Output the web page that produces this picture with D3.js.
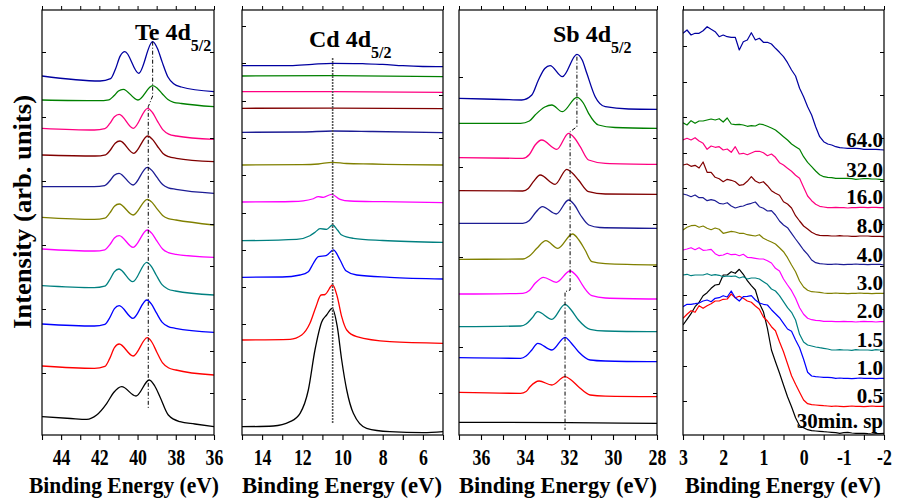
<!DOCTYPE html>
<html><head><meta charset="utf-8">
<script src="https://cdn.jsdelivr.net/npm/d3@7/dist/d3.min.js"></script>
<style>body{margin:0;background:#fff} text{font-family:"Liberation Serif","Times New Roman",serif;font-weight:bold;fill:#000}</style>
</head><body><svg id="c" width="897" height="503"></svg>
<script>
// ---------- data ----------
const seriesLabels = ["30min. sp","0.5","1.0","1.5","2.0","3.0","4.0","8.0","16.0","32.0","64.0"];
const seriesColors = ["#000000","#ff0000","#0000ff","#008080","#ff00ff","#808000","#1c1c94","#800000","#ff0080","#008000","#0000a0"];

// Te 4d : [binding energy, intensity]
const teSeries = [
 [[45,18.3],[43.5,16.5],[42.66,15.7],[42.14,20],[41.61,31.7],[41.25,42.5],[40.83,48.3],[40.08,39],[39.39,55],[39.1,49],[38.83,38.3],[38.39,20],[37.78,13.3],[37,11],[36,8.3]],
 [[45,69],[42.26,66.7],[41.71,68.6],[41.46,76.4],[41.21,87.4],[40.96,91],[40.23,79],[39.49,97.3],[39.24,92.5],[38.99,82.8],[38.69,72.1],[38.39,67.3],[37.99,65],[36,60]],
 [[45,111],[42.26,109],[41.71,110.6],[41.46,117.1],[41.21,126.3],[40.96,129.3],[40.24,116.7],[39.52,135],[39.27,130.8],[39.02,122.3],[38.72,112.9],[38.42,108.7],[38.02,106.7],[36,102.7]],
 [[45,149.3],[42.27,147.3],[41.72,148.8],[41.47,154.8],[41.22,163.2],[40.97,166],[40.25,153.3],[39.52,172.7],[39.27,168.4],[39.02,159.8],[38.72,150.3],[38.42,146],[38.02,144],[36,140]],
 [[45,186],[42.26,184],[41.71,185.2],[41.46,190.1],[41.21,197],[40.96,199.3],[40.23,187.7],[39.49,205],[39.24,201.4],[38.99,194.1],[38.69,186],[38.39,182.4],[37.99,180.7],[36,177.7]],
 [[45,217.7],[42.26,215.7],[41.71,216.9],[41.46,221.8],[41.21,228.7],[40.96,231],[40.23,220],[39.49,235.7],[39.24,232.6],[38.99,226.4],[38.69,219.6],[38.39,216.4],[37.99,215],[36,210]],
 [[45,248.3],[42.27,248.3],[41.72,249.4],[41.47,253.7],[41.22,259.7],[40.97,261.7],[40.23,250],[39.49,267.7],[39.24,264.4],[38.99,257.8],[38.69,250.5],[38.39,247.2],[37.99,245.7],[36,241.7]],
 [[45,280],[42.22,279],[41.67,280.2],[41.42,285],[41.17,291.8],[40.92,294],[40.2,281.7],[39.47,299],[39.22,295.6],[38.97,289],[38.67,281.6],[38.37,278.3],[37.97,276.7],[36,273.3]],
 [[45,306.7],[42.26,305],[41.71,306.3],[41.46,311.3],[41.21,318.3],[40.96,320.7],[40.22,306.7],[39.47,326.7],[39.22,322.5],[38.97,314.2],[38.67,305.1],[38.37,300.9],[37.97,299],[36,295.7]],
 [[45,335],[42.05,334.3],[41.5,335.2],[41.25,338.9],[41,344],[40.75,345.7],[39.98,335],[39.21,349.3],[38.96,346.6],[38.71,341.3],[38.41,335.4],[38.11,332.7],[37.71,331.5],[36,328.3]],
 [[45,359],[41.96,354],[41.41,356.3],[41.16,365.7],[40.91,378.9],[40.66,383.3],[39.94,361.7],[39.21,393.3],[38.96,386.5],[38.71,372.9],[38.41,358],[38.11,351.2],[37.71,348],[36,343.3]]
];
const teGuide = [[39.21,393.3],[39.21,339],[39.44,328.3],[39.44,26.7]];

// Cd 4d
const cdSeries = [
 [[15,8.3],[13.44,9],[12.61,13.3],[12.11,21.7],[11.7,45],[11.37,85],[11.03,113.3],[10.79,120],[10.51,126.7],[10.26,108.3],[10.04,75],[9.79,45],[9.46,21.7],[8.8,6.7],[7.64,3.3],[5.98,2.3],[5,3.3]],
 [[15,95],[12.61,95.7],[12.03,100],[11.62,111.7],[11.32,128.3],[11.07,140],[10.87,140.5],[10.49,150],[10.26,138.3],[10.04,118.3],[9.79,105],[9.29,98.3],[7.64,93.3],[5,91.7]],
 [[15,157.7],[13,158],[12.11,160],[11.7,163.3],[11.45,171.7],[11.2,178.3],[10.82,179.3],[10.45,185],[10.12,175],[9.83,164.3],[9.29,160],[7.64,157.7],[5,156]],
 [[15,194.3],[12.28,195.7],[11.62,199.3],[11.35,203],[11.12,206.3],[10.79,205.7],[10.49,210],[10.25,205],[10.04,200],[9.46,196.7],[8,194.5],[5,192.7]],
 [[15,233],[12.5,233.5],[11.95,234.2],[11.5,236],[11.2,238.3],[10.96,237.7],[10.54,240.7],[10.12,235.7],[9.63,234],[8,233.3],[5,232.3]],
 [[15,270],[12,270.3],[11.2,271],[10.5,272.7],[9.8,271.5],[8.5,271],[7,270.3],[5,270]],
 [[15,302.7],[12,303],[10.5,304],[8.5,303.5],[5,302.3]],
 [[15,326.7],[10.5,326.9],[5,326.3]],
 [[15,343.3],[10.5,343.3],[5,342.7]],
 [[15,359],[10.5,359.3],[5,358.3]],
 [[15,369.3],[12.6,369.3],[11.5,370.7],[10.5,371.7],[9,371.3],[8,370.7],[7,369.3],[6,368.5],[5,368.3]]
];
const cdGuide = [[10.49,377],[10.49,11.7]];

// Sb 4d
const sbSeries = [
 [[37,12.7],[32,12.3],[28,11.7]],
 [[37,42.7],[34.2,41.7],[33.95,43.5],[33.77,48.3],[33.36,54],[32.78,50],[32.18,58.3],[31.9,55],[31.57,48.3],[31.04,40],[30.35,38.8],[28,38.3]],
 [[37,77.3],[34.2,76.7],[33.95,79],[33.69,85],[33.42,91.7],[32.78,85],[32.18,97.7],[31.9,92],[31.57,83.3],[31.04,75],[30.35,74],[28,73.3]],
 [[37,108.3],[34.2,109],[33.95,111],[33.69,116.7],[33.42,123.3],[32.78,115.7],[32.18,130.7],[31.9,125],[31.57,115],[31.04,105.7],[30.35,104],[28,103.3]],
 [[37,141],[34.1,141.7],[33.8,144.5],[33.54,151.7],[33.16,157.7],[32.58,152.7],[31.95,164],[31.65,159],[31.34,148.3],[30.96,139.3],[30.35,137],[28,136]],
 [[37,175.7],[34.1,176],[33.8,179],[33.46,186.7],[33.05,194.3],[32.51,186.7],[31.84,201],[31.55,195],[31.27,185],[30.96,173.3],[30.35,171.3],[28,170]],
 [[37,211.7],[34.1,211.7],[33.8,214.5],[33.5,223],[33.21,228.3],[32.58,221],[32.02,235],[31.75,230],[31.45,219],[31.1,210],[30.6,207.5],[28,206.7]],
 [[37,244.3],[34.1,244],[33.85,246.5],[33.62,253.3],[33.31,260],[32.63,250.7],[32.1,265.7],[31.85,262],[31.57,255],[31.11,243.3],[30.35,241],[28,240.7]],
 [[37,277.3],[34.1,276.7],[33.8,280.5],[33.54,290],[33.24,295],[32.55,285.7],[32.02,301.7],[31.75,297],[31.49,288.3],[31.11,275],[30.35,271.7],[28,270.7]],
 [[37,311.7],[34.2,311.7],[33.8,314],[33.54,320],[33.1,328],[32.78,330],[32.3,323.3],[31.64,337.7],[31.35,332],[31.11,321.7],[30.66,310],[29.9,307.5],[28,306.7]],
 [[37,336.7],[35,335.5],[34.15,335],[33.69,340],[33.39,355],[33.1,366.5],[32.86,369.3],[32.3,358.3],[31.64,380.7],[31.4,375],[31.19,361.7],[30.81,338.3],[30.35,328.3],[29.29,326],[28,325.7]]
];
const sbGuide = [[31.64,378.3],[31.64,308.3],[31.95,303.3],[31.95,145],[32.18,143.3],[32.18,5]];

// valence band: common energy grid and intensities
const vbEnergy = [3,2.9,2.8,2.7,2.6,2.5,2.4,2.3,2.2,2.1,2,1.9,1.8,1.7,1.6,1.5,1.4,1.3,1.2,1.1,1,0.9,0.8,0.7,0.6,0.5,0.4,0.3,0.2,0.1,0,-0.1,-0.2,-0.3,-0.4,-0.5,-0.6,-0.7,-0.8,-0.9,-1,-1.1,-1.2,-1.3,-1.4,-1.5,-1.6,-1.7,-1.8,-1.9,-2];
const vbSeries = [
 [110,115.7,121.3,128.3,132.7,139.3,142.3,146.7,150,150.7,160,160,163.3,161.7,165.7,160.7,154.3,149.3,145,131.7,123.3,106.7,85,73.3,62,50,38.3,28.3,17.3,9.3,7.3,5.3,4.3,4,3.7,3.3,3,2.7,2.3,1.7,2.3,2.7,2,1.7,1.7,1.7,1.3,1,1.3,1.3,1.7],
 [116.7,120.7,124.3,122.7,129.3,126.7,129.3,131.3,134,134,135.7,136,141,137.3,138.7,136.7,134,132.7,129,125.7,118,114,108.3,104.3,93.3,83.3,71.3,59.3,50.7,42.7,35,31.3,30.3,30,29.7,29.3,29,28.7,29,28.7,28.3,28.7,29,28.7,28.7,28.3,28.7,29,28.7,28.7,28.7],
 [128.3,130.7,130.7,131.3,132,134,135,133.3,136.7,137.3,139.3,138,144,137.3,134,138.3,138.7,139.3,135,132,130.7,130,125.3,121.3,117.3,111.7,106,103.7,95,87.3,75.7,62.7,59,58.3,58,57.7,57.7,57.3,56.7,57,56.7,56.7,56.3,56.7,57,56.7,56.7,56.7,56.3,56.7,56.7],
 [160,160.7,159.3,160,160,160,161.3,159.7,160.3,159.7,158.3,159,158.7,159,157,158.3,156,157,157,156,153.3,150.7,146,144,139.3,133.3,127.3,122.7,115,100.7,93,90,89,88,87.3,86.7,86,85,85,85.3,85,85,84.7,85.3,85,85,85,84.7,85.3,85,85],
 [185,186,187.3,185.3,187.3,184.7,185,185.7,181.3,179.3,180,181.7,180.3,180.7,179.3,180.7,177.7,177.3,176.7,176,176,174.3,172,166.7,164,156,150,144.3,136.7,127.3,120.7,116.7,115.3,114.7,114.3,113.7,113.7,113.7,113.3,113.3,113.7,113.3,113.3,113,113.3,113.7,113.3,113.3,113,113.3,113.3],
 [205,207.7,209.3,209.7,207.7,209,206.7,205.3,207,205.7,201.7,202.7,203.7,203,201.7,201.7,200.3,199.7,199,200.3,196.7,194.7,193,191,187.3,183.3,177.3,170,163.3,154,148,144.7,143.3,143,142.7,142,141.7,141.7,142,141.7,141.7,141.3,141.7,141.7,142,141.7,141.7,141.3,141.7,141.7,141.7],
 [241,240,238.3,240,237.3,237.3,234.3,235.3,234.3,231.7,231,232.3,229,227,228.3,229,230.7,231.7,233,228.3,226.7,224,224.3,220,214,210,207.3,201.7,196,190.7,185,180.7,175,172.3,171.3,171,170.7,170.7,171,170.7,170.3,170.7,170.7,171,170.7,170.7,170.3,170.7,170.7,170.7,170],
 [270,271,268.7,269.7,267,273,262.7,262.7,257.7,256.3,253.3,255.7,254.7,253.3,249.7,250.3,253.7,258.3,254,252,253.3,249.3,244.3,241.7,239.7,233.3,231,227,219.3,214,209,206,202.7,200.7,199.7,199.3,199.3,199,199,199.3,199,199,198.7,198.7,199,199,199,198.7,198.7,198.7,198.3],
 [295,296.7,295,297.3,294,291.7,285.7,289,287.7,288.3,285,286,282.7,288.3,281,281.7,280.3,282,283.7,283.7,282.3,279.3,281,277.7,272.3,270,266.7,263.7,259.7,256.7,247.7,239,234.3,230.7,228.7,228,227.3,227.3,227.7,227.3,227.3,227,227.3,227.3,227.7,227.7,227.3,227.7,227.7,227.3,227.3],
 [312.3,310,314.3,311.7,314,314,315,316,315,316.3,313,317,311,310.3,310.7,310,308.7,309.3,309,311,310.3,308.7,307,305,301.7,298.3,295,291,288.3,285.7,278.3,272.7,268.3,264,260.3,258.3,257.7,257.3,256.7,256.7,256.7,256.7,256.3,255.7,256,256.3,256.3,256,256,255.7,255],
 [401.7,405,400,401.7,401.7,404.3,408.3,405.7,403.3,398.3,400,398.3,397.7,397.7,385,393.3,395,402.3,395,396.7,392.7,392.7,391,386.7,382.7,378.3,372.3,365,359,346.7,338.3,328.3,320,308.3,298.3,293.3,291,290,288.3,287.3,287,286.7,286.7,286.7,286.3,285.7,285.7,285.7,285.7,285.3,285]
];

// axis ticks
const teTicks = [45,44,43,42,41,40,39,38,37,36];
const teTickLabels = [44,42,40,38,36];
const cdTicks = [15,14,13,12,11,10,9,8,7,6,5];
const cdTickLabels = [14,12,10,8,6];
const sbTicks = [37,36,35,34,33,32,31,30,29,28];
const sbTickLabels = [36,34,32,30,28];
const vbTicks = [3,2.5,2,1.5,1,0.5,0,-0.5,-1,-1.5,-2];
const vbTickLabels = [3,2,1,0,-1,-2];
const teLeftTicks = [383,318,254,190,126,62];
const cdLeftTicks = [409,372,334,297,260,222,185,148,111,73,36];
const sbLeftTicks = [358,268,178,88];
const vbLeftTicks = [389,353,318,282,247,211,176,140,105,69,34];
const rightTicks = [383,340,297,254,211,169,126,84,42];

// ---------- drawing ----------
const svg = d3.select("#c");
svg.append("rect").attr("width",897).attr("height",503).attr("fill","#fff");
const plotTop = 10, plotBottom = 435;
const y = d3.scaleLinear().domain([0,425]).range([plotBottom, plotTop]);

function condense(sel, f) {
  sel.each(function() {
    const w = this.getComputedTextLength();
    if (w > 0) d3.select(this).attr("textLength", w * f).attr("lengthAdjust","spacingAndGlyphs");
  });
}

const panels = [
  {x0:42, x1:214, dom:[45,36], ticks:teTicks, labels:teTickLabels, left:teLeftTicks, xy:teSeries, guide:teGuide, gs:"#000", gd:"4,2,1,2", gw:1, tc:124, tw:190},
  {x0:242, x1:443, dom:[15,5], ticks:cdTicks, labels:cdTickLabels, left:cdLeftTicks, xy:cdSeries, guide:cdGuide, gs:"#555", gd:"2,1", gw:1.6, tc:342, tw:200},
  {x0:459, x1:657, dom:[37,28], ticks:sbTicks, labels:sbTickLabels, left:sbLeftTicks, xy:sbSeries, guide:sbGuide, gs:"#000", gd:"4,2,1,2", gw:1, tc:558, tw:198},
  {x0:683, x1:884, dom:[3,-2], ticks:vbTicks, labels:vbTickLabels, left:vbLeftTicks, xy:null, tc:783, tw:196}
];

panels.forEach((p,pi) => {
  const x = d3.scaleLinear().domain(p.dom).range([p.x0, p.x1]);
  const g = svg.append("g");
  const clipId = "clip"+pi;
  svg.append("clipPath").attr("id",clipId).append("rect")
     .attr("x",p.x0).attr("y",plotTop).attr("width",p.x1-p.x0).attr("height",plotBottom-plotTop);

  const curves = g.append("g").attr("clip-path",`url(#${clipId})`);
  if (p.xy) {
    const line = d3.line().x(d=>x(d[0])).y(d=>y(d[1])).curve(d3.curveMonotoneX);
    p.xy.forEach((s,i) => {
      curves.append("path").attr("d",line(s)).attr("fill","none")
        .attr("stroke",seriesColors[i]).attr("stroke-width",1.3).attr("stroke-linejoin","round");
    });
    const gl = d3.line().x(d=>x(d[0])).y(d=>y(d[1]));
    curves.append("path").attr("d",gl(p.guide)).attr("fill","none")
      .attr("stroke",p.gs).attr("stroke-width",p.gw).attr("stroke-dasharray",p.gd);
  } else {
    const line = d3.line().x((d,k)=>x(vbEnergy[k])).y(d=>y(d));
    vbSeries.forEach((s,i) => {
      curves.append("path").attr("d",line(s)).attr("fill","none")
        .attr("stroke",seriesColors[i]).attr("stroke-width",1.2).attr("stroke-linejoin","round");
    });
    vbSeries.forEach((s,i) => {
      const yy = Math.min(y(s[s.length-1]) - 3.5, 428);
      g.append("text").attr("x",p.x1-1).attr("y",yy).attr("text-anchor","end")
        .style("font-size","21px").text(seriesLabels[i]);
    });
  }

  // frame
  g.append("rect").attr("x",p.x0).attr("y",plotTop).attr("width",p.x1-p.x0).attr("height",plotBottom-plotTop)
    .attr("fill","none").attr("stroke","#000").attr("stroke-width",1.2);

  // bottom axis
  const ab = g.append("g").attr("transform",`translate(0,${plotBottom})`)
    .call(d3.axisBottom(x).tickValues(p.ticks).tickSize(5).tickPadding(8)
      .tickFormat(d => p.labels.includes(d) ? String(d) : ""));
  ab.select(".domain").remove();
  ab.selectAll("line").attr("stroke","#000").attr("stroke-width",1.1);
  ab.attr("font-size",null).attr("font-family",null);
  ab.selectAll("text").style("font-size","24px");
  condense(ab.selectAll("text"), 0.74);
  // top axis
  const at = g.append("g").attr("transform",`translate(0,${plotTop})`)
    .call(d3.axisTop(x).tickValues(p.ticks).tickSize(4).tickFormat(""));
  at.select(".domain").remove();
  // left ticks (inward)
  const al = g.append("g").attr("transform",`translate(${p.x0},0)`)
    .call(d3.axisRight(y).tickValues(p.left).tickSize(4).tickFormat(""));
  al.select(".domain").remove();
  // right ticks (inward)
  const ar = g.append("g").attr("transform",`translate(${p.x1},0)`)
    .call(d3.axisLeft(y).tickValues(rightTicks).tickSize(4).tickFormat(""));
  ar.select(".domain").remove();

  // x title
  g.append("text").attr("x",p.tc).attr("y",493).attr("text-anchor","middle")
    .style("font-size","24px").attr("textLength",p.tw).attr("lengthAdjust","spacingAndGlyphs")
    .text("Binding Energy (eV)");
});

// panel titles
function title(xp, yp, main, sub) {
  const t = svg.append("text").attr("x",xp).attr("y",yp).style("font-size","24px");
  t.append("tspan").text(main);
  t.append("tspan").attr("dy",11).style("font-size","16px").text(sub);
}
title(135, 40, "Te 4d", "5/2");
title(309, 47, "Cd 4d", "5/2");
title(553, 42, "Sb 4d", "5/2");

// y title
svg.append("text").attr("transform","translate(31,212) rotate(-90)").attr("text-anchor","middle")
  .style("font-size","26px").attr("textLength",234).attr("lengthAdjust","spacingAndGlyphs")
  .text("Intensity (arb. units)");
</script></body></html>
